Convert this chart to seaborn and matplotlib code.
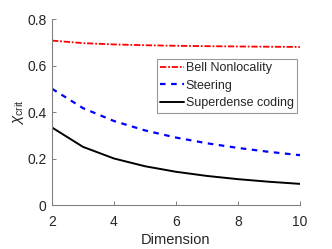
import numpy as np
import pandas as pd
import matplotlib
matplotlib.use("Agg")
import matplotlib.pyplot as plt
import seaborn as sns

# Data
dimension = [2, 3, 4, 5, 6, 7, 8, 9, 10]
bell = [0.7071, 0.6962, 0.6906, 0.6872, 0.6848, 0.6831, 0.6818, 0.6807, 0.6798]
steering = [0.5000, 0.4167, 0.3611, 0.3208, 0.2900, 0.2655, 0.2454, 0.2286, 0.2143]
superdense = [0.3333, 0.2500, 0.2000, 0.1667, 0.1429, 0.1250, 0.1111, 0.1000, 0.0909]

sns.set_style("white")
plt.rcParams['font.family'] = ['Liberation Sans', 'DejaVu Sans']
plt.rcParams['mathtext.fontset'] = 'custom'
plt.rcParams['mathtext.rm'] = 'Liberation Sans'
plt.rcParams['mathtext.it'] = 'Liberation Sans:italic'

df = pd.DataFrame({
    "Dimension": dimension * 3,
    "value": bell + steering + superdense,
    "series": ["Bell Nonlocality"] * 9 + ["Steering"] * 9 + ["Superdense coding"] * 9,
})

fig = plt.figure(figsize=(3.32, 2.49), dpi=100)
ax = fig.add_axes([52 / 332, 44 / 249, 248 / 332, 186 / 249])

styles = {
    "Bell Nonlocality": dict(color="red", linestyle=(0, (3.5, 1, 1, 1)), linewidth=1.3),
    "Steering": dict(color="blue", linestyle=(0, (2.5, 2.5)), linewidth=1.6),
    "Superdense coding": dict(color="black", linestyle="-", linewidth=1.4),
}
for name, st in styles.items():
    sub = df[df["series"] == name]
    sns.lineplot(data=sub, x="Dimension", y="value", ax=ax, label=name, **st)

ax.set_xlim(2, 10)
ax.set_ylim(0, 0.8)
ax.set_xticks([2, 4, 6, 8, 10])
ax.set_yticks([0, 0.2, 0.4, 0.6, 0.8])
ax.set_yticklabels(["0", "0.2", "0.4", "0.6", "0.8"])
ax.set_xlabel("Dimension", fontsize=10.5, color="#262626", labelpad=3)
ax.set_ylabel(r"$\chi_{\mathrm{crit}}$", fontsize=11, color="#262626", labelpad=1)

for s in ["top", "right"]:
    ax.spines[s].set_visible(False)
for s in ["left", "bottom"]:
    ax.spines[s].set_color("#808080")
    ax.spines[s].set_linewidth(0.8)
ax.tick_params(direction="in", length=3, width=0.7, color="#808080",
               labelsize=10, labelcolor="#262626", left=True, bottom=True, pad=4)
ax.tick_params(axis="x", pad=7)

leg = ax.legend(loc="upper right", bbox_to_anchor=(297 / 332, 1 - 59 / 249), bbox_transform=fig.transFigure,
                fontsize=9, frameon=True, fancybox=False, handlelength=1.9, handletextpad=0.15,
                borderpad=0.25, labelspacing=0.45, borderaxespad=0)
leg.get_frame().set_edgecolor("#808080")
leg.get_frame().set_linewidth(0.8)

fig.savefig("out.png", dpi=100)
